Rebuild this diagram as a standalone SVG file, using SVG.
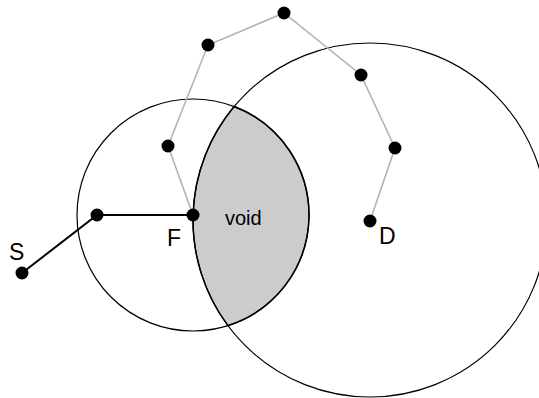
<svg xmlns="http://www.w3.org/2000/svg" width="539" height="398" viewBox="0 0 539 398">
<style>
.circ{fill:none;stroke:#000;stroke-width:1.2}
.route{fill:none;stroke:#b3b3b3;stroke-width:1.6}
.path{fill:none;stroke:#000;stroke-width:2}
.dot{fill:#000}
.lbl{font-family:"Liberation Sans",Arial,sans-serif;font-size:23px;fill:#000}
.void{font-family:"Liberation Sans",Arial,sans-serif;font-size:20px;fill:#000}
</style>
<rect width="539" height="398" fill="#fff"/>
<g id="void-region">
<path d="M234.14,106.54 A116,116 0 0 1 227.96,325.62 A177,177 0 0 1 234.14,106.54 Z" fill="#cccccc" stroke="#000" stroke-width="1.5"/>
<text class="void" x="225" y="225">void</text>
</g>
<g id="ranges">
<circle class="circ" cx="193" cy="215" r="116"/>
<circle class="circ" cx="370" cy="220" r="177"/>
</g>
<g id="connectors">
<polyline class="route" points="193,215 168,146 208,45 284,13 361,75 395,148 370,221"/>
<polyline class="path" points="22,273 97,215 193,215"/>
</g>
<g id="node-S"><circle class="dot" cx="22" cy="273" r="6.5"/><text class="lbl" x="9" y="260">S</text></g>
<g id="node-n1"><circle class="dot" cx="97" cy="215" r="6.5"/></g>
<g id="node-F"><circle class="dot" cx="193" cy="215" r="6.5"/><text class="lbl" x="167" y="246">F</text></g>
<g id="node-n2"><circle class="dot" cx="168" cy="146" r="6.5"/></g>
<g id="node-n3"><circle class="dot" cx="208" cy="45" r="6.5"/></g>
<g id="node-n4"><circle class="dot" cx="284" cy="13" r="6.5"/></g>
<g id="node-n5"><circle class="dot" cx="361" cy="75" r="6.5"/></g>
<g id="node-n6"><circle class="dot" cx="395" cy="148" r="6.5"/></g>
<g id="node-D"><circle class="dot" cx="370" cy="221" r="6.5"/><text class="lbl" x="379" y="244">D</text></g>
</svg>
